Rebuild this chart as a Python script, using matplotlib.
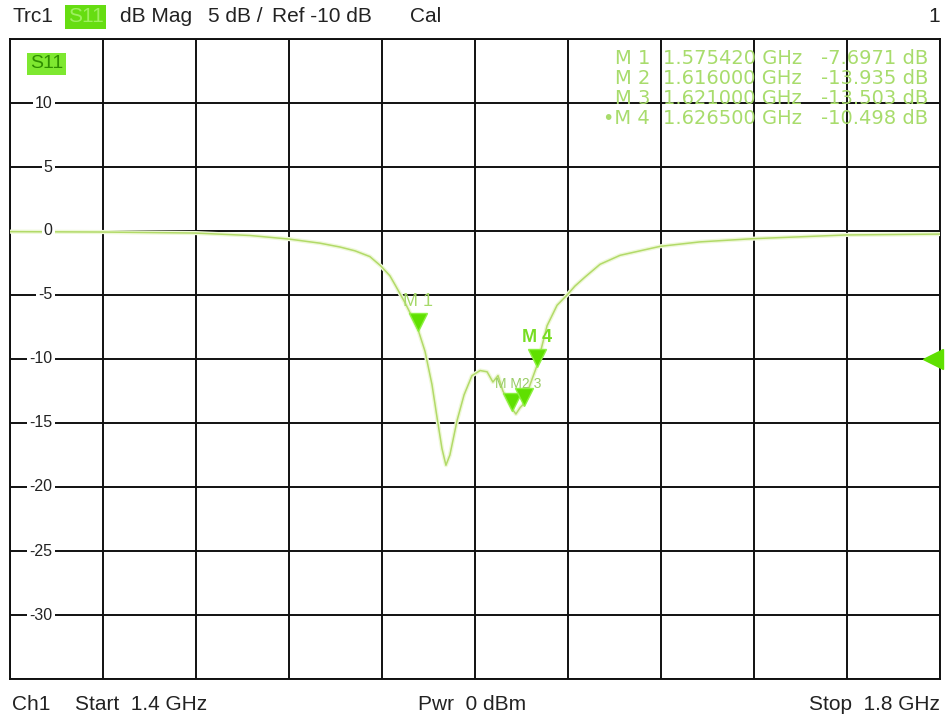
import numpy as np
import matplotlib
matplotlib.use("Agg")
import matplotlib.pyplot as plt

plt.rcParams['font.family'] = ['Liberation Sans', 'DejaVu Sans']

# trace (GHz, dB)
freq = [1.400, 1.440, 1.4796, 1.5032, 1.520, 1.5333, 1.5419, 1.5484, 1.5548,
        1.5596, 1.5634, 1.5656, 1.5699, 1.5729, 1.5755, 1.5785, 1.5815, 1.5837,
        1.5858, 1.5875, 1.5892, 1.5923, 1.5953, 1.5987, 1.6022, 1.6052, 1.6077,
        1.6099, 1.612, 1.6142, 1.616, 1.6176, 1.6194, 1.621, 1.6237, 1.6267,
        1.631, 1.6353, 1.6396, 1.6430, 1.6473, 1.6538, 1.6624, 1.6796, 1.6968,
        1.7196, 1.7596, 1.800]
s11 = [-0.05, -0.08, -0.16, -0.35, -0.63, -0.95, -1.25, -1.55, -2.0,
       -2.75, -3.5, -4.2, -5.6, -6.7, -7.7, -9.4, -12.0, -14.6,
       -17.0, -18.3, -17.5, -14.8, -12.8, -11.3, -10.9, -11.0, -11.8,
       -11.3, -12.5, -13.3, -13.9, -14.3, -13.8, -13.5, -12.0, -10.5,
       -7.4, -5.8, -5.0, -4.3, -3.6, -2.6, -1.9, -1.2, -0.85,
       -0.6, -0.31, -0.24]

mk_names = ['M 1', 'M 2', 'M 3', 'M 4']
mk_freq = [1.575420, 1.616000, 1.621000, 1.626500]
mk_db = [-7.6971, -13.935, -13.503, -10.498]
mk_freq_txt = ['1.575420 GHz', '1.616000 GHz', '1.621000 GHz', '1.626500 GHz']
mk_db_txt = ['-7.6971 dB', '-13.935 dB', '-13.503 dB', '-10.498 dB']

y_ticks = [10, 5, 0, -5, -10, -15, -20, -25, -30]
ref_level = -10

W, H = 946, 722
fig = plt.figure(figsize=(W / 100, H / 100), dpi=100)
left, right, top, bottom = 10, 940, 39, 679
ax = fig.add_axes([left / W, 1 - bottom / H, (right - left) / W, (bottom - top) / H])
ax.set_xlim(1.4, 1.8)
ax.set_ylim(-35, 15)
ax.set_xticks(np.linspace(1.4, 1.8, 11))
ax.set_yticks(np.arange(-35, 16, 5))
ax.tick_params(length=0, labelbottom=False, labelleft=False)
ax.grid(True, color='#111111', linewidth=1.4)
for sp in ax.spines.values():
    sp.set_color('#111111')
    sp.set_linewidth(1.4)

# y labels sitting on gridlines
for v in y_ticks:
    ax.text(1.4183, v, str(v), ha='right', va='center', fontsize=11.5, color='#222222',
            zorder=10, bbox=dict(facecolor='white', edgecolor='none', pad=1.5))

trace_col = '#b2da68'
ax.plot(freq, s11, color='#eef8d8', linewidth=3, solid_capstyle='round', zorder=3)
ax.plot(freq, s11, color=trace_col, linewidth=1.1, zorder=4)

mk_col = '#5fe000'
for i in range(4):
    ax.plot(mk_freq[i], mk_db[i] + 0.55, marker='v', markersize=13, color=mk_col,
            markeredgecolor='#8cf040', zorder=6)
ax.text(mk_freq[0], mk_db[0] + 1.5, mk_names[0], ha='center', va='bottom', fontsize=13,
        color='#a6d96a', zorder=7)
ax.text(mk_freq[3], mk_db[3] + 1.5, mk_names[3], ha='center', va='bottom', fontsize=13,
        color='#77dd22', fontweight='bold', zorder=7)
ax.text(1.6185, mk_db[2] + 1.0, 'M M2 3', ha='center', va='bottom', fontsize=10,
        color='#99cc66', zorder=7)

# reference level arrow on the right edge
ax.plot(1.797, ref_level, marker='<', markersize=14, color=mk_col, clip_on=False, zorder=8)

# marker table
ys = [59, 79, 99, 119]
tc = '#a8dc6c'
for i in range(4):
    y = 1 - ys[i] / H
    lbl = ('\u2022' if i == 3 else '') + mk_names[i]
    kw = dict(va='center', fontsize=14, color=tc, family=['DejaVu Sans'])
    fig.text(650 / W, y, lbl, ha='right', **kw)
    fig.text(663 / W, y, mk_freq_txt[i], ha='left', **kw)
    fig.text(928 / W, y, mk_db_txt[i], ha='right', **kw)

# S11 tag inside plot
fig.text(30 / W, 1 - 64 / H, 'S11', ha='left', va='center', fontsize=14, color='#2f8f00',
         bbox=dict(facecolor='#7ee830', edgecolor='none', pad=2))

# header
hy = 1 - 17 / H
fs = 15
fig.text(12 / W, hy, 'Trc1', ha='left', va='center', fontsize=fs, color='#222222')
fig.text(68 / W, hy, 'S11', ha='left', va='center', fontsize=fs, color='#9ef060',
         bbox=dict(facecolor='#66dd11', edgecolor='none', pad=2))
fig.text(120 / W, hy, 'dB Mag', ha='left', va='center', fontsize=fs, color='#222222')
fig.text(208 / W, hy, '5 dB /', ha='left', va='center', fontsize=fs, color='#222222')
fig.text(272 / W, hy, 'Ref -10 dB', ha='left', va='center', fontsize=fs, color='#222222')
fig.text(410 / W, hy, 'Cal', ha='left', va='center', fontsize=fs, color='#222222')
fig.text(940 / W, hy, '1', ha='right', va='center', fontsize=fs, color='#222222')

# footer
fy = 1 - 705 / H
fig.text(12 / W, fy, 'Ch1', ha='left', va='center', fontsize=fs, color='#222222')
fig.text(75 / W, fy, 'Start  1.4 GHz', ha='left', va='center', fontsize=fs, color='#222222')
fig.text(472 / W, fy, 'Pwr  0 dBm', ha='center', va='center', fontsize=fs, color='#222222')
fig.text(940 / W, fy, 'Stop  1.8 GHz', ha='right', va='center', fontsize=fs, color='#222222')

fig.savefig('out.png', dpi=100, facecolor='white')
